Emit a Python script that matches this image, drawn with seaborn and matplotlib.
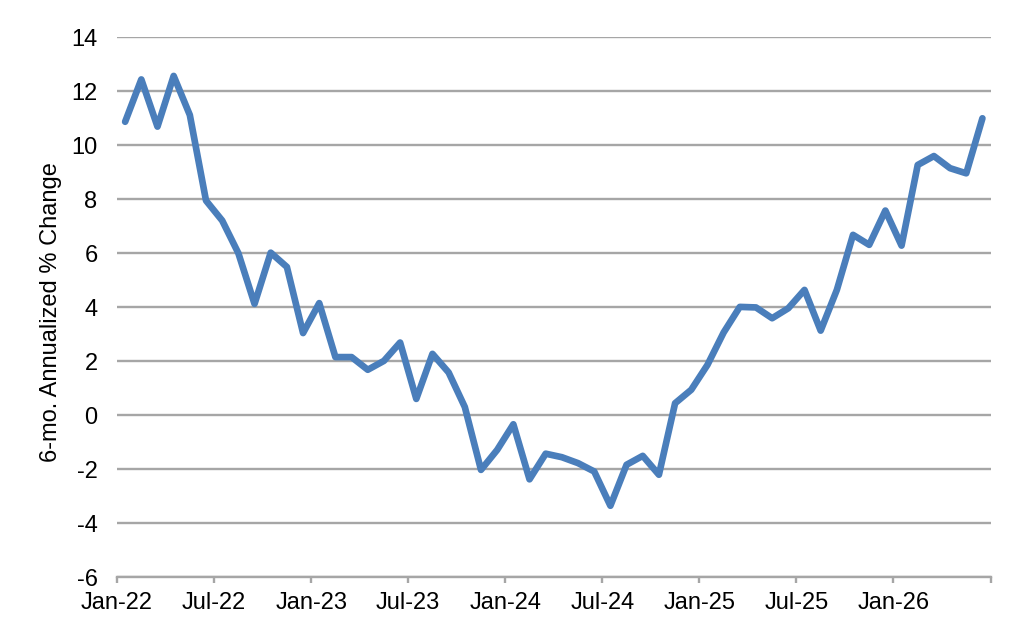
import matplotlib
matplotlib.use("Agg")
import matplotlib.pyplot as plt
import seaborn as sns
import numpy as np
import pandas as pd

# monthly series, Jan-22 .. Jun-26
months = pd.date_range("2022-01-01", "2026-06-01", freq="MS").strftime("%b-%y").tolist()
values = [
    10.87, 12.44, 10.69, 12.57, 11.12, 7.95, 7.21, 6.0, 4.12, 6.02,
    5.49, 3.04, 4.15, 2.15, 2.15, 1.68, 2.01, 2.69, 0.60, 2.27,
    1.58, 0.30, -2.03, -1.29, -0.34, -2.38, -1.43, -1.56, -1.78, -2.09,
    -3.36, -1.84, -1.51, -2.21, 0.44, 0.94, 1.86, 3.06, 4.01, 3.99,
    3.59, 3.96, 4.64, 3.13, 4.64, 6.68, 6.31, 7.58, 6.28, 9.27,
    9.60, 9.15, 8.96, 11.0,
]
y_ticks = [-6, -4, -2, 0, 2, 4, 6, 8, 10, 12, 14]
y_label = "6-mo. Annualized % Change"

df = pd.DataFrame({"month": months, "value": values})
df["pos"] = np.arange(len(df)) + 0.5   # points sit between tick marks

sns.set_theme(style="white")
plt.rcParams["font.family"] = ["Liberation Sans", "DejaVu Sans"]

grid_col = "#a6a6a6"
line_col = "#4a7ebb"
fs = 17

fig = plt.figure(figsize=(10.24, 6.38), dpi=100)
ax = fig.add_axes([0.1143, 0.0956, 0.8530, 0.8459])

sns.lineplot(data=df, x="pos", y="value", ax=ax, color=line_col,
             linewidth=4.8, solid_joinstyle="round", solid_capstyle="round")

ax.set_xlim(0, len(df))
ax.set_ylim(y_ticks[0], y_ticks[-1])
ax.set_yticks(y_ticks)
ax.set_yticklabels([str(t) for t in y_ticks], fontsize=fs, color="black")

tick_pos = np.arange(0, len(df) + 1, 6)
tick_lab = [months[i] if i < len(months) else "" for i in tick_pos]
ax.set_xticks(tick_pos)
ax.set_xticklabels(tick_lab, fontsize=fs, color="black")

ax.yaxis.grid(True, color=grid_col, linewidth=1.7)
ax.xaxis.grid(False)
ax.set_axisbelow(True)

for s in ["top", "right", "left"]:
    ax.spines[s].set_visible(False)
ax.spines["bottom"].set_color(grid_col)
ax.spines["bottom"].set_linewidth(1.7)
ax.spines["bottom"].set_zorder(0.5)

ax.tick_params(axis="y", length=0, pad=14)
ax.tick_params(axis="x", direction="out", length=4.5, width=1.7,
               color=grid_col, pad=6.5, bottom=True)

ax.set_xlabel("")
ax.set_ylabel(y_label, fontsize=fs, color="black")
ax.yaxis.set_label_coords(-0.063, 0.49)

fig.savefig("out.png", dpi=100, facecolor="white")
